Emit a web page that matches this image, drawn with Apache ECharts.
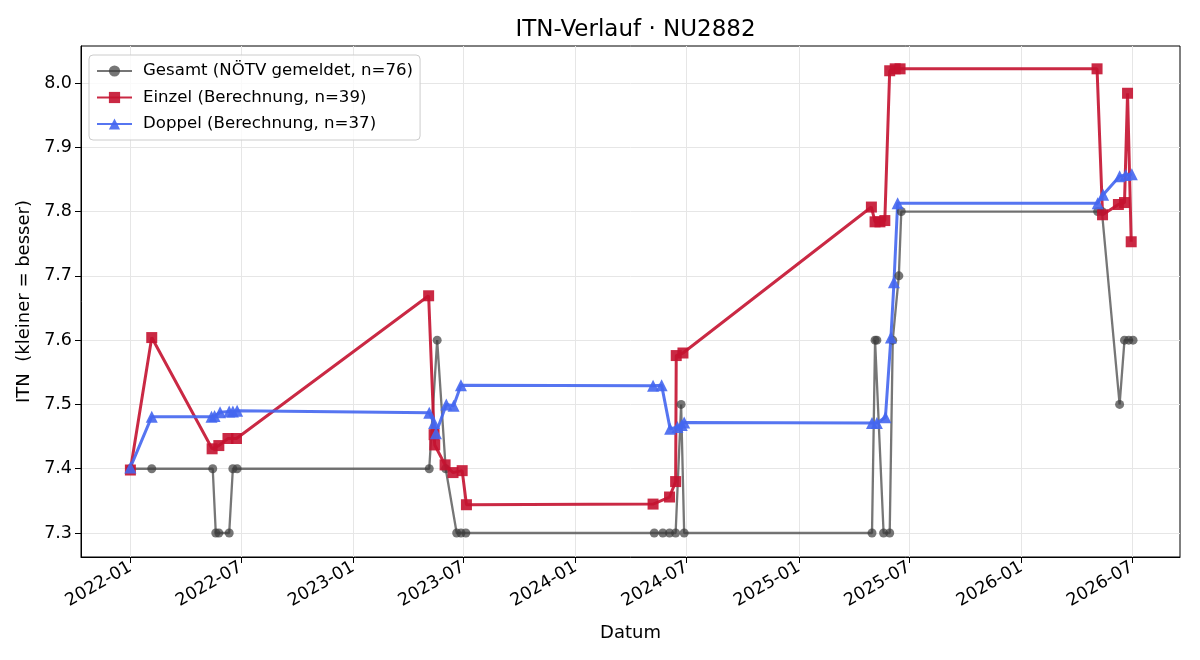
<!DOCTYPE html>
<html>
<head>
<meta charset="utf-8">
<script src="https://cdn.jsdelivr.net/npm/echarts@6/dist/echarts.min.js"></script>
<style>
  html, body { margin: 0; padding: 0; background: #fff; }
  #main { width: 1200px; height: 660px; }
</style>
</head>
<body>
<div id="main"></div>
<script>
// Gesamt (NÖTV gemeldet)
var gesamtDates = ['2022-01-01','2022-02-05','2022-05-16','2022-05-21','2022-05-26','2022-06-12','2022-06-18','2022-06-25',
  '2023-05-06','2023-05-19','2023-06-02','2023-06-20','2023-06-27','2023-07-05',
  '2024-05-09','2024-05-23','2024-06-03','2024-06-13','2024-06-22','2024-06-27',
  '2025-05-01','2025-05-06','2025-05-09','2025-05-20','2025-05-30','2025-06-04','2025-06-14','2025-06-18',
  '2026-05-06','2026-05-13','2026-06-11','2026-06-19','2026-06-26','2026-07-03'];
var gesamtValues = [7.4,7.4,7.4,7.3,7.3,7.3,7.4,7.4,
  7.4,7.6,7.4,7.3,7.3,7.3,
  7.3,7.3,7.3,7.3,7.5,7.3,
  7.3,7.6,7.6,7.3,7.3,7.6,7.7,7.8,
  7.8,7.8,7.5,7.6,7.6,7.6];

// Einzel (Berechnung)
var einzelDates = ['2022-01-01','2022-02-05','2022-05-15','2022-05-26','2022-06-10','2022-06-24',
  '2023-05-05','2023-05-14','2023-05-15','2023-06-01','2023-06-14','2023-06-29','2023-07-06',
  '2024-05-07','2024-06-03','2024-06-13','2024-06-14','2024-06-25',
  '2025-04-30','2025-05-06','2025-05-14','2025-05-22','2025-05-30','2025-06-08','2025-06-16',
  '2026-05-05','2026-05-14','2026-06-09','2026-06-19','2026-06-24','2026-06-30'];
var einzelValues = [7.398,7.604,7.431,7.436,7.447,7.447,
  7.669,7.453,7.437,7.406,7.394,7.397,7.344,
  7.345,7.356,7.38,7.576,7.58,
  7.807,7.784,7.784,7.786,8.019,8.022,8.022,
  8.022,7.795,7.811,7.814,7.984,7.753];

// Doppel (Berechnung)
var doppelDates = ['2022-01-01','2022-02-05','2022-05-14','2022-05-19','2022-05-28','2022-06-12','2022-06-18','2022-06-25',
  '2023-05-06','2023-05-14','2023-05-17','2023-06-03','2023-06-15','2023-06-27',
  '2024-05-07','2024-05-21','2024-06-04','2024-06-16','2024-06-23','2024-06-27',
  '2025-05-01','2025-05-09','2025-05-23','2025-06-01','2025-06-06','2025-06-12',
  '2026-05-06','2026-05-15','2026-06-11','2026-06-21','2026-07-01'];
var doppelValues = [7.402,7.481,7.481,7.482,7.488,7.489,7.489,7.49,
  7.487,7.471,7.455,7.5,7.498,7.53,
  7.529,7.53,7.462,7.465,7.468,7.472,
  7.471,7.471,7.48,7.604,7.69,7.813,
  7.813,7.826,7.855,7.857,7.858];

var xTicks = ['2022-01-01','2022-07-01','2023-01-01','2023-07-01','2024-01-01','2024-07-01',
  '2025-01-01','2025-07-01','2026-01-01','2026-07-01'];
var yTicks = [7.3,7.4,7.5,7.6,7.7,7.8,7.9,8.0];

function ts(d) { return new Date(d + 'T00:00:00Z').getTime(); }
function pairs(dates, values) {
  return dates.map(function (d, i) { return [ts(d), values[i]]; });
}

var FONT = 'DejaVu Sans';
var chart = echarts.init(document.getElementById('main'), null, { renderer: 'canvas' });

var option = {
  animation: false,
  backgroundColor: '#fff',
  textStyle: { fontFamily: FONT },
  title: {
    text: 'ITN-Verlauf · NU2882',
    left: 630.5,
    textAlign: 'center',
    top: 14,
    textStyle: { fontFamily: FONT, fontSize: 23, fontWeight: 'normal', color: '#000' }
  },
  legend: {
    orient: 'vertical',
    left: 89,
    top: 55,
    padding: [7, 7, 7, 7],
    itemGap: 8.5,
    itemWidth: 35,
    itemHeight: 14,
    backgroundColor: 'rgba(255,255,255,0.8)',
    borderColor: '#cccccc',
    borderWidth: 1,
    borderRadius: 4,
    textStyle: { fontFamily: FONT, fontSize: 16.6, lineHeight: 18, color: '#000', padding: [0, 0, 0, 6] },
    data: ['Gesamt (NÖTV gemeldet, n=76)', 'Einzel (Berechnung, n=39)', 'Doppel (Berechnung, n=37)']
  },
  grid: {
    left: 81, right: 20, top: 46, bottom: 103,
    show: true, borderColor: '#000', borderWidth: 1, backgroundColor: 'transparent'
  },
  xAxis: {
    type: 'value',
    min: ts('2021-10-12'),
    max: ts('2026-09-18'),
    name: 'Datum',
    nameLocation: 'middle',
    nameGap: 67,
    nameTextStyle: { fontFamily: FONT, fontSize: 18, color: '#000' },
    axisLine: { show: true, lineStyle: { color: '#000', width: 1 } },
    axisTick: { show: true, length: 6, lineStyle: { color: '#000' },
      customValues: xTicks.map(ts) },
    axisLabel: {
      rotate: 30, margin: 9, fontFamily: FONT, fontSize: 17.5, color: '#000',
      customValues: xTicks.map(ts),
      formatter: function (v) {
        var d = new Date(v);
        var m = d.getUTCMonth() + 1;
        return d.getUTCFullYear() + '-' + (m < 10 ? '0' + m : m);
      }
    },
    splitLine: { show: true, lineStyle: { color: '#e6e6e6', width: 1 } }
  },
  yAxis: {
    type: 'value',
    min: 7.2627,
    max: 8.0575,
    name: 'ITN  (kleiner = besser)',
    nameLocation: 'middle',
    nameRotate: 90,
    nameGap: 46,
    nameTextStyle: { fontFamily: FONT, fontSize: 18, color: '#000' },
    axisLine: { show: true, lineStyle: { color: '#000', width: 1 } },
    axisTick: { show: true, length: 6, lineStyle: { color: '#000' }, customValues: yTicks },
    axisLabel: {
      margin: 9, fontFamily: FONT, fontSize: 17.5, color: '#000',
      customValues: yTicks,
      formatter: function (v) { return v.toFixed(1); }
    },
    splitLine: { show: true, lineStyle: { color: '#e6e6e6', width: 1 } }
  },
  series: [
    {
      name: 'Gesamt (NÖTV gemeldet, n=76)',
      type: 'line',
      data: pairs(gesamtDates, gesamtValues),
      symbol: 'circle',
      symbolSize: 9,
      color: '#3c3c3c',
      lineStyle: { width: 2.3, color: '#3c3c3c', opacity: 0.7 },
      itemStyle: { color: '#3c3c3c', opacity: 0.7 }
    },
    {
      name: 'Einzel (Berechnung, n=39)',
      type: 'line',
      data: pairs(einzelDates, einzelValues),
      symbol: 'rect',
      symbolSize: 11,
      color: '#c41230',
      lineStyle: { width: 3, color: '#c41230', opacity: 0.9 },
      itemStyle: { color: '#c41230', opacity: 0.9 }
    },
    {
      name: 'Doppel (Berechnung, n=37)',
      type: 'line',
      data: pairs(doppelDates, doppelValues),
      symbol: 'triangle',
      symbolSize: 12,
      color: '#4466f0',
      lineStyle: { width: 3, color: '#4466f0', opacity: 0.9 },
      itemStyle: { color: '#4466f0', opacity: 0.9 }
    }
  ]
};

chart.setOption(option);
</script>
</body>
</html>
